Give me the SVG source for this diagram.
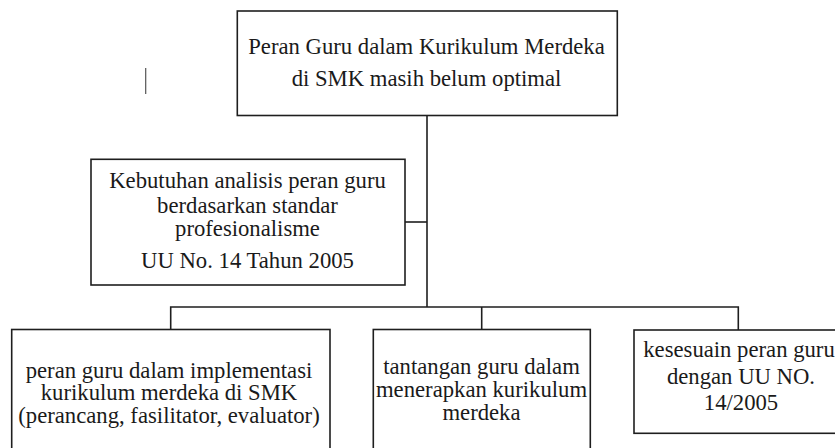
<svg xmlns="http://www.w3.org/2000/svg" width="835" height="448" viewBox="0 0 835 448">
<style>
.box{fill:#fff;stroke:#1e1e1e;stroke-width:1.6}
.ln{fill:none;stroke:#1e1e1e;stroke-width:1.6}
.t{font-size:22.7px;fill:#1a1a1a;text-anchor:middle}
</style>
<rect width="835" height="448" fill="#fff"/>
<line x1="145.7" y1="68" x2="145.7" y2="94" stroke="#555" stroke-width="1.2"/>
<g id="connectors">
<path class="ln" d="M427 115 V307"/>
<path class="ln" d="M405 222 H427"/>
<path class="ln" d="M170.7 329.5 V307 H738.3 V330"/>
<path class="ln" d="M481.7 307 V329.5"/>
</g>
<g font-family="'Liberation Serif', 'Times New Roman', 'DejaVu Serif', serif">
<g id="node-top">
<rect class="box" x="237.3" y="11" width="380" height="104.5"/>
<text class="t" x="426.5" y="54">Peran Guru dalam Kurikulum Merdeka</text>
<text class="t" x="426.5" y="85.5">di SMK masih belum optimal</text>
</g>
<g id="node-kebutuhan">
<rect class="box" x="91" y="159.3" width="314" height="125.7"/>
<text class="t" x="247.5" y="187.7">Kebutuhan analisis peran guru</text>
<text class="t" x="247.5" y="212.5">berdasarkan standar</text>
<text class="t" x="247.5" y="235.5">profesionalisme</text>
<text class="t" x="247.5" y="268">UU No. 14 Tahun 2005</text>
</g>
<g id="node-peran">
<rect class="box" x="11.7" y="329.5" width="318.3" height="130"/>
<text class="t" x="169" y="377.5">peran guru dalam implementasi</text>
<text class="t" x="169" y="400">kurikulum merdeka di SMK</text>
<text class="t" x="169" y="422.5">(perancang, fasilitator, evaluator)</text>
</g>
<g id="node-tantangan">
<rect class="box" x="373.3" y="329.5" width="217" height="130"/>
<text class="t" x="481.5" y="374">tantangan guru dalam</text>
<text class="t" x="481.5" y="397">menerapkan kurikulum</text>
<text class="t" x="481.5" y="419.5">merdeka</text>
</g>
<g id="node-kesesuaian">
<rect class="box" x="634" y="330" width="214" height="103.3"/>
<text class="t" x="739" y="357">kesesuain peran guru</text>
<text class="t" x="741" y="383.5">dengan UU NO.</text>
<text class="t" x="741" y="409.5">14/2005</text>
</g>
</g>
</svg>
